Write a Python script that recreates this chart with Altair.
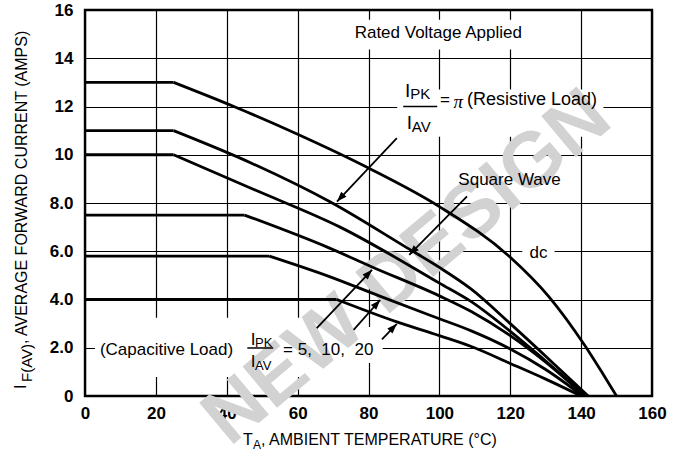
import math
import altair as alt
import pandas as pd

FONT = "Liberation Sans, Arial, Helvetica, sans-serif"
SERIF = "Liberation Serif, Times New Roman, serif"
W, H = 567, 386
X_MAX, Y_MAX = 160, 16

# ---------------- data ----------------
x_ticks = [0, 20, 40, 60, 80, 100, 120, 140, 160]
y_ticks = [0, 2, 4, 6, 8, 10, 12, 14, 16]

curve_names = ["dc", "square", "resistive", "cap5", "cap10", "cap20"]
dc_x = [0, 25, 42, 60, 80, 100, 120, 131, 141, 146, 150]
dc_y = [13, 13, 12, 10.85, 9.45, 7.85, 5.75, 4.1, 2.1, 0.95, 0]
b_x = [0, 25, 47, 69, 91, 100, 109, 120, 130, 142]
b_y = [11, 11, 9.65, 8.06, 6.13, 5.33, 4.43, 3.0, 1.65, 0]
c_x = [0, 25, 47, 72, 100, 109, 120, 130, 141.5]
c_y = [10, 10, 8.6, 7.0, 4.68, 3.91, 2.68, 1.45, 0]
d_x = [0, 45, 69, 81, 100, 109, 120, 130, 141]
d_y = [7.5, 7.5, 6.13, 5.35, 4.15, 3.5, 2.5, 1.4, 0]
e_x = [0, 52, 69, 83, 100, 109, 120, 130, 140.5]
e_y = [5.8, 5.8, 4.95, 4.15, 3.2, 2.7, 1.95, 1.1, 0]
f_x = [0, 71, 88, 100, 109, 120, 130, 140]
f_y = [4.0, 4.0, 3.07, 2.5, 2.05, 1.35, 0.7, 0]

# arrows (tail -> head), data units
arrow_x0 = [88.0, 107.8, 65.4, 75.8, 83.8]
arrow_y0 = [10.69, 8.27, 2.81, 2.74, 2.35]
arrow_x1 = [71.1, 91.5, 81.0, 83.3, 88.0]
arrow_y1 = [8.06, 5.85, 5.23, 3.98, 2.99]

# white label backgrounds
box_x0 = [73.4, 88.1, 103.7, 123.4, 2.8, 78.0]
box_x1 = [125.7, 146.3, 135.9, 132.5, 78.0, 84.0]
box_y0 = [14.36, 10.75, 8.46, 5.56, 0.79, 1.37]
box_y1 = [15.6, 12.7, 9.7, 6.3, 3.24, 2.86]

# centred labels
ctr_text = ["Rated Voltage Applied", "Square Wave", "dc"]
ctr_x = [99.7, 119.8, 128.0]
ctr_y = [15.06, 8.96, 5.93]

# left-aligned, vertically centred labels
lm_text = ["(Capacitive Load)", "= 5,\u00a0\u00a010,\u00a0\u00a020", "=", "(Resistive Load)"]
lm_x = [4.2, 55.9, 100.2, 107.8]
lm_y = [1.91, 1.91, 12.26, 12.26]
lm_size = [17, 17, 17, 18]

# fraction letters (alphabetic baseline)
fr_text = ["I", "PK", "I", "AV", "I", "PK", "I", "AV"]
fr_x = [90.3, 91.8, 90.8, 92.2, 46.8, 48.0, 46.8, 48.0]
fr_y = [12.41, 12.33, 11.05, 10.93, 2.12, 2.05, 1.22, 1.08]
fr_size = [19, 15, 19, 15, 17, 13, 17, 13]

# fraction bars
bar_x0 = [89.8, 45.8]
bar_x1 = [99.4, 53.1]
bar_y = [12.0, 1.99]

# ---------------- tables ----------------
rows = []
for name, xs, ys in zip(curve_names, [dc_x, b_x, c_x, d_x, e_x, f_x],
                        [dc_y, b_y, c_y, d_y, e_y, f_y]):
    for i, (xv, yv) in enumerate(zip(xs, ys)):
        if i <= 1:
            rows.append(dict(curve=name, part="flat", x=xv, y=yv))
        if i >= 1:
            rows.append(dict(curve=name, part="fall", x=xv, y=yv))
curves = pd.DataFrame(rows)

sx, sy = W / X_MAX, H / Y_MAX
angles = []
for x0, y0, x1, y1 in zip(arrow_x0, arrow_y0, arrow_x1, arrow_y1):
    dxs = (x1 - x0) * sx
    dys = -(y1 - y0) * sy
    angles.append(math.degrees(math.atan2(dxs, -dys)) % 360)
arrows = pd.DataFrame(dict(x=arrow_x0, y=arrow_y0, x2=arrow_x1, y2=arrow_y1, ang=angles))
boxes = pd.DataFrame(dict(x=box_x0, x2=box_x1, y=box_y0, y2=box_y1))
ctr = pd.DataFrame(dict(t=ctr_text, x=ctr_x, y=ctr_y))
lm = pd.DataFrame(dict(t=lm_text, x=lm_x, y=lm_y, s=lm_size))
fr = pd.DataFrame(dict(t=fr_text, x=fr_x, y=fr_y, s=fr_size))
bars = pd.DataFrame(dict(x=bar_x0, x2=bar_x1, y=bar_y))

x_scale = alt.Scale(domain=[0, X_MAX], nice=False, zero=False)
y_scale = alt.Scale(domain=[0, Y_MAX], nice=False, zero=False)
x_axis = alt.Axis(values=x_ticks, title=None)
y_axis = alt.Axis(values=y_ticks, title=None,
                  labelExpr="datum.value == 0 ? '0' : (datum.value < 10 ? format(datum.value, '.1f') : format(datum.value, 'd'))")


def X(f="x"):
    return alt.X(f + ":Q", scale=x_scale, axis=x_axis)


def Y(f="y"):
    return alt.Y(f + ":Q", scale=y_scale, axis=y_axis)


watermark = alt.Chart(pd.DataFrame(dict(t=["NEW DESIGN"], x=[91.0], y=[5.3]))).mark_text(
    font=FONT, fontSize=78, fontWeight="bold", color="#d2d2d2", angle=320,
    align="center", baseline="middle", clip=False
).encode(x=X(), y=Y(), text="t:N")

box_layer = alt.Chart(boxes).mark_rect(fill="white").encode(
    x=X(), x2="x2:Q", y=Y(), y2="y2:Q")

flat = alt.Chart(curves).transform_filter("datum.part == 'flat'").mark_line(
    color="black", strokeWidth=2.8, interpolate="linear"
).encode(x=X(), y=Y(), detail="curve:N")

fall = alt.Chart(curves).transform_filter("datum.part == 'fall'").mark_line(
    color="black", strokeWidth=2.8, interpolate="monotone", strokeCap="butt"
).encode(x=X(), y=Y(), detail="curve:N")

arrow_lines = alt.Chart(arrows).mark_rule(color="black", strokeWidth=1.8).encode(
    x=X(), y=Y(), x2="x2:Q", y2="y2:Q")

arrow_heads = alt.Chart(arrows).mark_point(
    shape="M0,0L0.36,1L-0.36,1Z", filled=True, color="black", opacity=1, size=400
).encode(x=X("x2"), y=Y("y2"), angle=alt.Angle("ang:Q", scale=None))

bar_layer = alt.Chart(bars).mark_rule(color="black", strokeWidth=1.5).encode(
    x=X(), x2="x2:Q", y=Y())

ctr_layer = alt.Chart(ctr).mark_text(
    font=FONT, fontSize=17, color="black", align="center", baseline="middle"
).encode(x=X(), y=Y(), text="t:N")

lm_layer = alt.Chart(lm).mark_text(
    font=FONT, color="black", align="left", baseline="middle"
).encode(x=X(), y=Y(), text="t:N", size=alt.Size("s:Q", scale=None))

pi_layer = alt.Chart(pd.DataFrame(dict(t=["\u03c0"], x=[104.0], y=[12.2]))).mark_text(
    font=SERIF, fontSize=19, fontStyle="italic", color="black", align="left", baseline="middle"
).encode(x=X(), y=Y(), text="t:N")

fr_layer = alt.Chart(fr).mark_text(
    font=FONT, color="black", align="left", baseline="alphabetic"
).encode(x=X(), y=Y(), text="t:N", size=alt.Size("s:Q", scale=None))

# axis titles (pixel positions relative to the plot area)
def ptext(txt, px, py, size, angle=0):
    return alt.Chart(pd.DataFrame(dict(t=[txt]))).mark_text(
        font=FONT, fontSize=size, color="black", align="left",
        baseline="alphabetic", angle=angle
    ).encode(text="t:N", x=alt.value(px), y=alt.value(py))

titles = [
    ptext("T", 158, 435, 16),
    ptext("A", 168, 439, 12),
    ptext(", AMBIENT TEMPERATURE (\u00b0C)", 176, 435, 16),
    ptext("I", -59, 379, 16, 270),
    ptext("F(AV)", -53, 372, 15, 270),
    ptext(", AVERAGE FORWARD CURRENT (AMPS)", -58, 334, 16, 270),
]

chart = alt.layer(
    box_layer, watermark, flat, fall, arrow_lines, arrow_heads, bar_layer,
    ctr_layer, lm_layer, pi_layer, fr_layer, *titles
).properties(
    width=W, height=H,
    padding={"left": 85, "top": 10, "right": 28, "bottom": 64},
    autosize=alt.AutoSizeParams(type="none"),
    background="white",
).configure_view(
    stroke="black", strokeWidth=2.4
).configure_axis(
    grid=True, gridColor="black", gridWidth=1.2, gridOpacity=1,
    domain=False, ticks=False, labelFont=FONT, labelFontSize=17,
    labelFontWeight="bold", labelColor="black",
).configure_axisX(
    labelPadding=9, labelFlush=False
).configure_axisY(
    labelPadding=12, labelFlush=False
)

chart.save("out.html", embed_options={"renderer": "svg", "actions": False})
